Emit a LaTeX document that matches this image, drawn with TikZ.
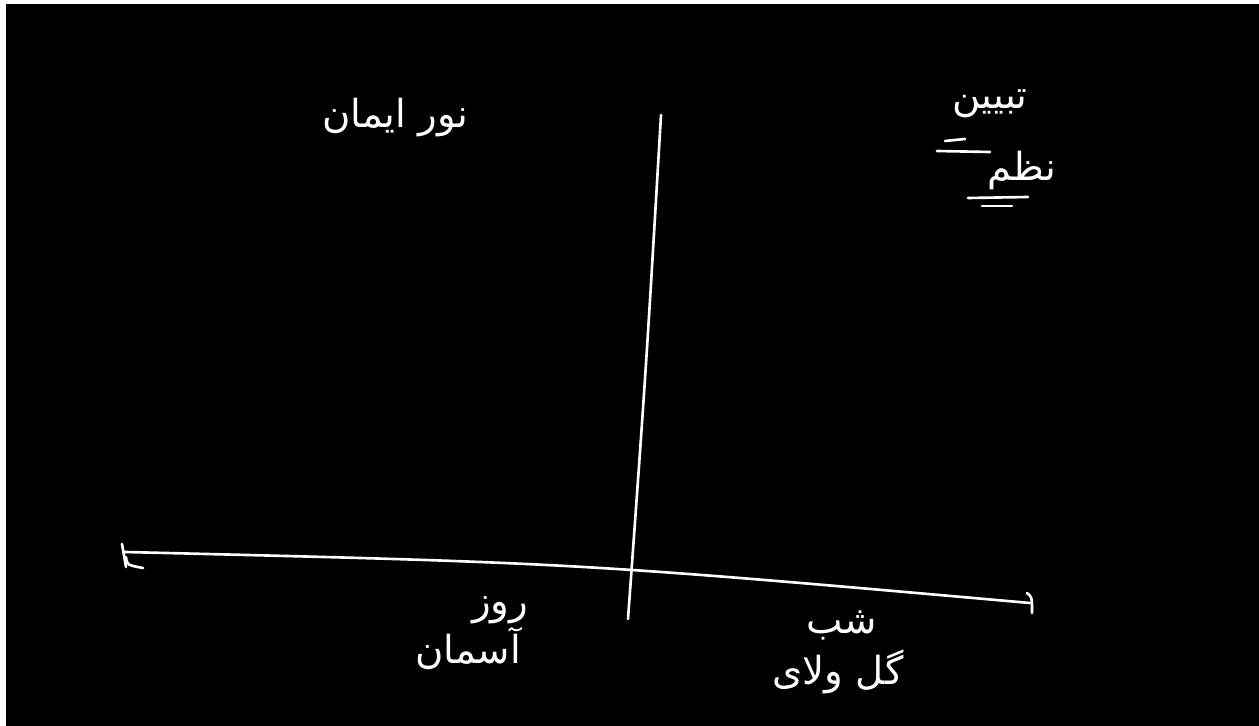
\documentclass[tikz,border=0pt]{standalone}
\usepackage{fontspec}
\newfontfamily\arabicfont[Script=Arabic]{DejaVu Sans}
\TeXXeTstate=1
\usetikzlibrary{calc}

\begin{document}
\begin{tikzpicture}[x=0.02cm,y=-0.02cm,
  chalk/.style={draw=white,line width=1.5pt,line cap=round},
  word/.style={text=white,inner sep=0pt,font=\arabicfont\fontsize{22}{26}\selectfont}]
\useasboundingbox (0,0) rectangle (1259,726);
\fill[white] (0,0) rectangle (1259,726);
\fill[black] (6,4) rectangle (1259,726);
% axes
\coordinate (left) at (125,552);
\coordinate (right) at (1030,603);
\coordinate (top) at (661,115);
\coordinate (bottom) at (628,619);
\draw[chalk] (top) .. controls (646,370) .. (bottom);
\draw[chalk] (left) .. controls (577,563) .. (right);
\draw[chalk] (122,544) -- (126,567);
\draw[chalk] (126,557) .. controls (127,565) .. (143,568);
\draw[chalk] (1027,593) .. controls (1032,597) .. (1032,613);
% labels
\node[word] (iman) at (395,118) {\beginR نور ایمان\endR};
\node[word] (tabyin) at (990,104) {\beginR تبیین\endR};
\node[word] (nazm) at (1022,170) {\beginR نظم\endR};
\node[word] (ruz) at (500,610) {\beginR روز\endR};
\node[word] (aseman) at (468,648) {\beginR آسمان\endR};
\node[word] (shab) at (842,625) {\beginR شب\endR};
\node[word] (gel) at (838,672) {\beginR گل ولای\endR};
\draw[chalk] (945,141) -- (965,139);
\draw[chalk] (937,151) -- (990,152);
\draw[chalk] (968,198) -- (1028,197);
\draw[chalk] (982,206) -- (1012,206);
\end{tikzpicture}
\end{document}
